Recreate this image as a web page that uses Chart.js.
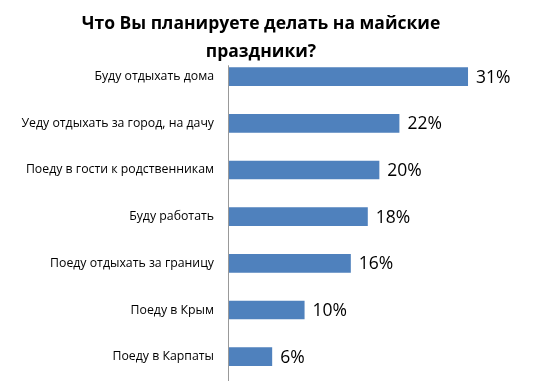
<!DOCTYPE html>
<html>
<head>
<meta charset="utf-8">
<script src="https://cdn.jsdelivr.net/npm/chart.js@4.4.1/dist/chart.umd.min.js"></script>
<style>
  html, body { margin: 0; padding: 0; background: #ffffff; }
  #wrap { width: 534px; height: 381px; position: relative; }
</style>
</head>
<body>
<div id="wrap"><canvas id="c" width="534" height="381"></canvas></div>
<script>
const titleLines = ['Что Вы планируете делать на майские', 'праздники?'];
const categories = [
  'Буду отдыхать дома',
  'Уеду отдыхать за город, на дачу',
  'Поеду в гости к родственникам',
  'Буду работать',
  'Поеду отдыхать за границу',
  'Поеду в Крым',
  'Поеду в Карпаты'
];
const values = [31, 22.1, 19.5, 18, 15.8, 9.8, 5.6];
const valueLabels = ['31%', '22%', '20%', '18%', '16%', '10%', '6%'];

const barColor = '#4F81BD';
const FONT = '"Open Sans", "Liberation Sans", sans-serif';

const valueLabelPlugin = {
  id: 'valueLabels',
  afterDatasetsDraw(chart) {
    const ctx = chart.ctx;
    const meta = chart.getDatasetMeta(0);
    ctx.save();
    ctx.font = '17.5px ' + FONT;
    ctx.fillStyle = '#000000';
    ctx.textAlign = 'left';
    ctx.textBaseline = 'middle';
    meta.data.forEach((bar, i) => {
      ctx.fillText(valueLabels[i], bar.x + 8, bar.y + 1);
    });
    ctx.restore();
  }
};

const axisLinePlugin = {
  id: 'axisLine',
  afterDatasetsDraw(chart) {
    const ctx = chart.ctx;
    const x = Math.round(chart.scales.x.getPixelForValue(0)) - 0.5;
    ctx.save();
    ctx.strokeStyle = '#999999';
    ctx.lineWidth = 1;
    ctx.beginPath();
    ctx.moveTo(x, chart.chartArea.top + 12);
    ctx.lineTo(x, chart.height);
    ctx.stroke();
    ctx.restore();
  }
};

new Chart(document.getElementById('c'), {
  type: 'bar',
  data: {
    labels: categories,
    datasets: [{
      data: values,
      backgroundColor: barColor,
      borderWidth: 0,
      barPercentage: 0.8,
      categoryPercentage: 0.5
    }]
  },
  options: {
    indexAxis: 'y',
    responsive: false,
    animation: false,
    layout: { padding: { top: 0, right: 12, bottom: 1, left: 0 } },
    plugins: {
      legend: { display: false },
      tooltip: { enabled: false },
      title: {
        display: true,
        text: titleLines,
        color: '#000000',
        font: { family: FONT, size: 17.5, weight: 'bold', lineHeight: 1.6 },
        padding: { top: 10, bottom: -12.7 }
      }
    },
    scales: {
      x: {
        display: false,
        min: 0,
        max: 38
      },
      y: {
        grid: { display: false, drawTicks: false },
        border: { display: false },
        ticks: {
          color: '#000000',
          padding: 15,
          font: { family: FONT, size: 12.3 }
        },
        afterFit(scale) {
          scale.width = 229;
          scale.paddingTop = 0;
          scale.paddingBottom = 0;
        }
      }
    }
  },
  plugins: [valueLabelPlugin, axisLinePlugin]
});
</script>
</body>
</html>
